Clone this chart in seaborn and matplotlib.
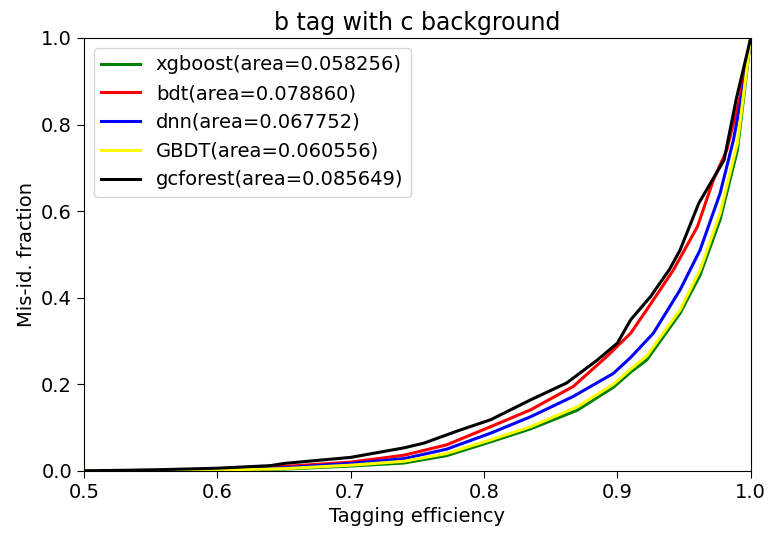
import numpy as np
import pandas as pd
import matplotlib
matplotlib.use("Agg")
import matplotlib.pyplot as plt
import seaborn as sns

# ---- data ----
labels = [
    "xgboost(area=0.058256)",
    "bdt(area=0.078860)",
    "dnn(area=0.067752)",
    "GBDT(area=0.060556)",
    "gcforest(area=0.085649)",
]
colors = ["green", "red", "blue", "yellow", "black"]

xgb_x = [0.5, 0.55, 0.6, 0.65, 0.7, 0.74, 0.772, 0.805, 0.835, 0.87, 0.897, 0.91, 0.922, 0.947, 0.962, 0.977, 0.99, 1.0]
xgb_y = [0.0, 0.0004, 0.0012, 0.004, 0.011, 0.018, 0.035, 0.067, 0.097, 0.140, 0.193, 0.228, 0.256, 0.364, 0.452, 0.580, 0.741, 1.0]

bdt_x = [0.5, 0.55, 0.6, 0.65, 0.7, 0.74, 0.772, 0.805, 0.835, 0.867, 0.892, 0.91, 0.922, 0.942, 0.96, 0.972, 0.982, 0.992, 1.0]
bdt_y = [0.0, 0.001, 0.003, 0.010, 0.020, 0.036, 0.060, 0.102, 0.141, 0.195, 0.264, 0.318, 0.372, 0.464, 0.564, 0.672, 0.741, 0.864, 1.0]

dnn_x = [0.5, 0.55, 0.6, 0.65, 0.7, 0.74, 0.772, 0.805, 0.835, 0.867, 0.897, 0.91, 0.927, 0.947, 0.962, 0.977, 0.987, 0.996, 1.0]
dnn_y = [0.0, 0.001, 0.002, 0.007, 0.017, 0.028, 0.050, 0.087, 0.125, 0.172, 0.225, 0.262, 0.318, 0.418, 0.510, 0.641, 0.764, 0.911, 1.0]

gbdt_x = [0.5, 0.55, 0.6, 0.65, 0.7, 0.74, 0.772, 0.805, 0.835, 0.87, 0.897, 0.91, 0.922, 0.947, 0.962, 0.977, 0.99, 1.0]
gbdt_y = [0.0, 0.0005, 0.0015, 0.005, 0.013, 0.022, 0.040, 0.0716, 0.102, 0.148, 0.200, 0.235, 0.265, 0.372, 0.464, 0.595, 0.757, 1.0]

gcf_x = [0.5, 0.55, 0.6, 0.64, 0.65, 0.7, 0.74, 0.755, 0.78, 0.805, 0.835, 0.862, 0.885, 0.9, 0.91, 0.925, 0.939, 0.947, 0.961, 0.972, 0.98, 0.989, 1.0]
gcf_y = [0.0, 0.002, 0.006, 0.012, 0.017, 0.031, 0.053, 0.064, 0.092, 0.118, 0.164, 0.203, 0.256, 0.295, 0.349, 0.403, 0.465, 0.510, 0.618, 0.676, 0.718, 0.857, 1.0]

series_x = [xgb_x, bdt_x, dnn_x, gbdt_x, gcf_x]
series_y = [xgb_y, bdt_y, dnn_y, gbdt_y, gcf_y]

frames = []
for lab, xs, ys in zip(labels, series_x, series_y):
    frames.append(pd.DataFrame({"eff": xs, "mis": ys, "model": lab}))
df = pd.concat(frames, ignore_index=True)

fig, ax = plt.subplots(figsize=(7.7, 5.35), dpi=100)
fig.subplots_adjust(left=0.109, right=0.975, top=0.929, bottom=0.120)

sns.lineplot(data=df, x="eff", y="mis", hue="model", hue_order=labels,
             palette=dict(zip(labels, colors)), estimator=None, sort=True,
             linewidth=2.2, ax=ax)

ax.set_xlim(0.5, 1.0)
ax.set_ylim(0.0, 1.0)
ax.set_xticks([0.5, 0.6, 0.7, 0.8, 0.9, 1.0])
ax.set_yticks([0.0, 0.2, 0.4, 0.6, 0.8, 1.0])
ax.tick_params(labelsize=14, length=5)
ax.set_xlabel("Tagging efficiency", fontsize=14)
ax.set_ylabel("Mis-id. fraction", fontsize=14)
ax.set_title("b tag with c background", fontsize=17)

handles, labs = ax.get_legend_handles_labels()
ax.legend(handles, labs, loc="upper left", fontsize=14, frameon=True)

fig.savefig("out.png", dpi=100)
